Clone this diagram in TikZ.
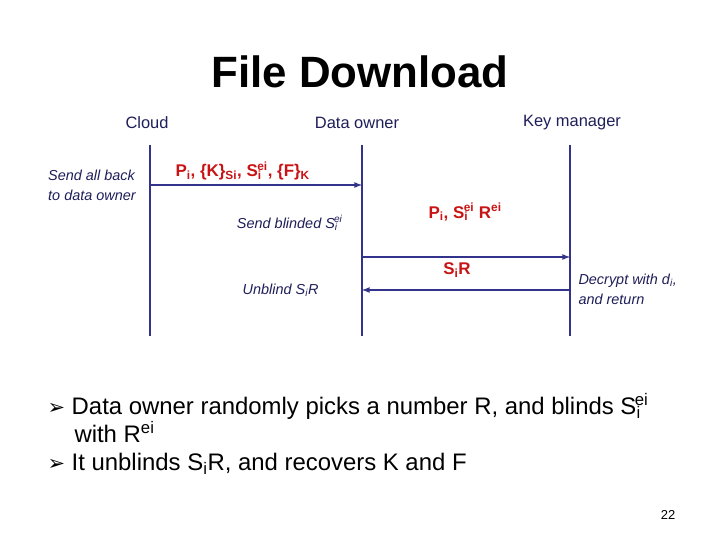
\documentclass[tikz,border=0pt]{standalone}
\usepackage{fontspec}
\setmainfont{Liberation Sans}
\newfontfamily\dejavu{DejaVu Sans}
\definecolor{ln}{RGB}{51,51,140}
\definecolor{rd}{RGB}{200,20,20}
\definecolor{tx}{RGB}{30,30,90}
\newcommand{\ssub}[1]{\textsubscript{#1}}
\newcommand{\ssup}[1]{\textsuperscript{#1}}
\begin{document}
\begin{tikzpicture}[x=1bp,y=-1bp,
  life/.style={draw=ln,line width=1.6pt},
  msg/.style={draw=ln,line width=1.6pt,-latex},
  hdr/.style={font=\fontsize{16.5}{19}\selectfont,text=tx},
  note/.style={font=\fontsize{14.5}{20}\selectfont\itshape,text=tx,align=left},
  red/.style={font=\fontsize{17}{20}\selectfont\bfseries,text=rd},
  blt/.style={font=\fontsize{24}{24}\selectfont,anchor=west,align=left}]
\useasboundingbox (0,0) rectangle (720,540);
\node[font=\fontsize{44}{48}\selectfont\bfseries] (title) at (360,72) {File Download};
\node[hdr] (hc) at (147,123) {Cloud};
\node[hdr] (ho) at (357,123) {Data owner};
\node[hdr] (hk) at (572,123) {Key manager};
\coordinate (c1) at (150,145); \coordinate (c2) at (150,336);
\coordinate (o1) at (362,145); \coordinate (o2) at (362,336);
\coordinate (k1) at (570,145); \coordinate (k2) at (570,336);
\draw[life] (c1)--(c2); \draw[life] (o1)--(o2); \draw[life] (k1)--(k2);
\coordinate (a1s) at (150,185); \coordinate (a1e) at (362,185);
\coordinate (a2s) at (362,257); \coordinate (a2e) at (570,257);
\coordinate (a3s) at (570,290); \coordinate (a3e) at (362,290);
\draw[msg] (a1s)--(a1e); \draw[msg] (a2s)--(a2e); \draw[msg] (a3s)--(a3e);
\node[red,anchor=west] (m1) at (172,171) {P\ssub{i}, \{K\}\ssub{Si}, S\ssub{i}\kern-0.25em\ssup{ei}, \{F\}\ssub{K}};
\node[red,anchor=west] (m2) at (425,212) {P\ssub{i}, S\ssub{i}\kern-0.25em\ssup{ei} R\ssup{ei}};
\node[red] (m3) at (457,270) {S\ssub{i}R};
\node[note] (n1) at (92,185) {Send all back\\to data owner};
\node[note,anchor=east] (n2) at (346,223) {Send blinded S\ssub{i}\kern-0.25em\ssup{ei}};
\node[note,anchor=east] (n3) at (322,290) {Unblind S\ssub{i}R};
\node[note,anchor=west] (n4) at (575,289) {Decrypt with d\ssub{i},\\and return};
\node[blt] (b1) at (44,418) {{\dejavu\fontsize{21}{22}\selectfont ➢} Data owner randomly picks a number R, and blinds S\ssub{i}\kern-0.25em\ssup{ei}\\\hspace*{27bp}with R\ssup{ei}};
\node[blt] (b2) at (44,464) {{\dejavu\fontsize{21}{22}\selectfont ➢} It unblinds S\ssub{i}R, and recovers K and F};
\node[font=\fontsize{13}{15}\selectfont] (pg) at (668,515) {22};
\end{tikzpicture}
\end{document}
